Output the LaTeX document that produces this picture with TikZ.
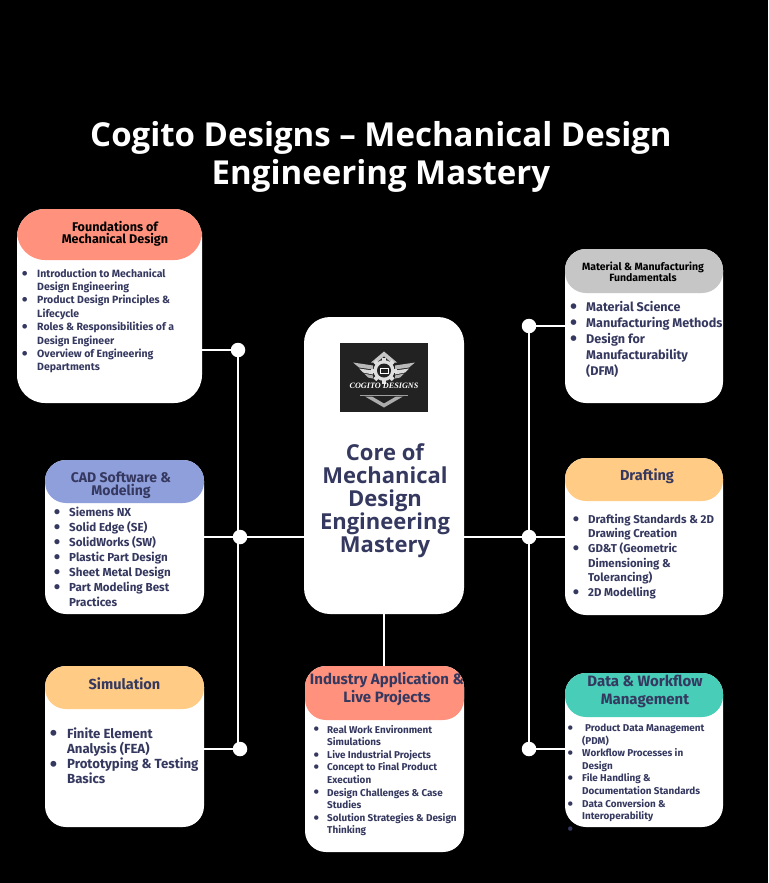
\documentclass[tikz,border=0pt]{standalone}
\usepackage{fontspec}
\usepackage{graphicx}
\setmainfont{Fira Sans}
\newfontfamily\headfont{Open Sans}
\newfontfamily\logofont{Liberation Serif}
\definecolor{navy}{HTML}{35385F}
\definecolor{salmon}{HTML}{FF917D}
\definecolor{graybar}{HTML}{C6C6C6}
\definecolor{peri}{HTML}{8F9FDB}
\definecolor{sand}{HTML}{FFCB85}
\definecolor{teal2}{HTML}{48CDB9}
\definecolor{logobg}{HTML}{222222}
\tikzset{
  x=1pt,y=-1pt,
  panel/.style={fill=white,draw=none,inner sep=0,outer sep=0},
  banner/.style={draw=none,inner sep=0,outer sep=0},
  link/.style={draw=white,line width=2.2pt},
  hub/.style={circle,fill=white,draw=none,minimum size=14.5pt,inner sep=0,outer sep=0},
  hdr/.style={inner sep=0,align=center,font=\bfseries,text=navy},
  body/.style={inner sep=0,anchor=base west,text=navy,font=\bfseries},
}
% name x1 y1 x2 y2 header-bottom radius colour
\newcommand\cardbox[8]{%
  \node[panel,rounded corners=#7pt,minimum width={(#4-#2)*1pt},minimum height={(#5-#3)*1pt}] (#1) at ({(#2+#4)/2},{(#3+#5)/2}) {};
  \node[banner,fill=#8,rounded corners=#7pt,minimum width={(#4-#2)*1pt},minimum height={(#6-#3)*1pt}] (#1head) at ({(#2+#4)/2},{(#3+#6)/2}) {};
}
\newcommand\bigdot{\smash{\raisebox{-.2em}{\scalebox{1.6}{\textbullet}}}}
\newcommand\bl[1]{\hbox{\llap{\bigdot\hspace{\bgap}}#1}}
\newcommand\cl[1]{\hbox{#1}}
\newcommand\bgap{8pt}
\newcommand\fs[2]{\fontsize{#1pt}{#2pt}\selectfont}
\begin{document}
\begin{tikzpicture}
\useasboundingbox[fill=black] (0,0) rectangle (768,883);
% cards
\cardbox{found}{17}{209}{202}{403}{260}{28}{salmon}
\cardbox{mat}{565}{249}{723}{403}{293}{21}{graybar}
\cardbox{cad}{45}{460}{204}{614}{503}{21}{peri}
\cardbox{draft}{565}{458}{723}{615}{501}{21}{sand}
\cardbox{sim}{45}{666}{204}{827}{709}{21}{sand}
\cardbox{data}{565}{673}{723}{827}{717}{21}{teal2}
\cardbox{ind}{305}{666}{464}{852}{720}{21}{salmon}
\node[panel,rounded corners=26pt,minimum width=160pt,minimum height=297pt] (core) at (384,465.5) {};
% hubs
\node[hub] (h1) at (238,350) {};
\node[hub] (h2) at (240,537) {};
\node[hub] (h3) at (240,749) {};
\node[hub] (h4) at (529,326) {};
\node[hub] (h5) at (529,537) {};
\node[hub] (h6) at (529,749) {};
% connectors
\draw[link] (h1) -- (h1 |- h3);
\draw[link] (h4) -- (h6);
\draw[link] (found.east |- h1) -- (h1);
\draw[link] (sim.east |- h3) -- (h3);
\draw[link] (cad.east |- h2) -- (core.west |- h2);
\draw[link] (core.east |- h5) -- (draft.west |- h5);
\draw[link] (mat.west |- h4) -- (h4);
\draw[link] (data.west |- h6) -- (h6);
\draw[link] (core.south) -- (core.south |- ind.north);
% title
\node[inner sep=0,align=center,text=white,font={\headfont\bfseries\fs{33}{38}}] (title) at (381,156.5) {Cogito Designs – Mechanical Design\\Engineering Mastery};
% logo
\node[draw=none,fill=logobg,inner sep=0,minimum width=88pt,minimum height=69pt] (logo) at (384,377.5) {};
\begin{scope}[shift={(384,377.5)}]
  % wings
  \foreach \s in {-1,1}{
    \fill[gray!55,xscale=\s] (31,-15) -- (11,-12) -- (11,-8) -- (25,-10) -- cycle;
    \fill[gray!30,xscale=\s] (25,-9) -- (11,-7) -- (11,-3) -- (21,-5) -- cycle;
    \fill[gray!60,xscale=\s] (20,-4) -- (11,-2) -- (11,1) -- (16,0) -- cycle;
  }
  \fill[gray!45] (0,-26) -- (13,-15) -- (-13,-15) -- cycle;
  \fill[logobg] (0,-21) -- (8,-14) -- (-8,-14) -- cycle;
  % gear
  \foreach \a in {0,45,...,315}{
    \fill[gray!25,rotate around={\a:(0,-7)}] (-2,-20) rectangle (2,-15);
  }
  \fill[gray!25] (0,-7) circle (10.5);
  \fill[logobg] (0,-7) circle (7);
  \draw[white,line width=.6pt] (-4,-9.5) rectangle (4,-4.5);
  % chevron
  \draw[gray!75,line width=.8pt] (-24,18) -- (24,18);
  \fill[gray!65] (-19,19) -- (-12,19) -- (0,26) -- (12,19) -- (19,19) -- (0,30) -- cycle;
\end{scope}
\node[inner sep=0,text=white,font={\logofont\itshape\bfseries\fs{8.2}{9}}] (logotxt) at (384,386) {COGITO DESIGNS};
\node[hdr,text=navy,font={\headfont\bfseries\fs{22}{23}}] (coretxt) at (385,501) {Core of\\Mechanical\\Design\\Engineering\\Mastery};
% headers
\node[hdr,text=black,font={\bfseries\fs{12.6}{12.3}}] (t1) at (115,233.5) {Foundations of\\Mechanical Design};
\node[hdr,text=black,font={\bfseries\fs{10.5}{10.5}}] (t2) at (643,272) {Material \& Manufacturing\\Fundamentals};
\node[hdr,font={\bfseries\fs{14}{13.5}}] (t3) at (121,485) {CAD Software \&\\Modeling};
\node[hdr,font={\bfseries\fs{14.5}{16}}] (t4) at (647,476.5) {Drafting};
\node[hdr,font={\bfseries\fs{14.5}{16}}] (t5) at (124.5,684) {Simulation};
\node[hdr,font={\bfseries\fs{15}{18}}] (t6) at (645,691.5) {Data \& Workflow\\Management};
\node[hdr,font={\bfseries\fs{15}{17.5}}] (t7) at (387,689) {Industry Application \&\\Live Projects};
% bodies
\node[body,font={\bfseries\fs{10.5}{13.42}}] (b1) at (37,277) {\renewcommand\bgap{9.5pt}\vtop{
 \bl{Introduction to Mechanical}\cl{Design Engineering}\bl{Product Design Principles \&}\cl{Lifecycle}\bl{Roles \& Responsibilities of a}\cl{Design Engineer}\bl{Overview of Engineering}\cl{Departments}}};
\node[body,font={\bfseries\fs{12.6}{16}}] (b2) at (586,311) {\renewcommand\bgap{9pt}\vtop{
 \bl{Material Science}\bl{Manufacturing Methods}\bl{Design for}\cl{Manufacturability}\cl{(DFM)}}};
\node[body,font={\bfseries\fs{11.6}{15}}] (b3) at (69,516) {\renewcommand\bgap{9pt}\vtop{
 \bl{Siemens NX}\bl{Solid Edge (SE)}\bl{SolidWorks (SW)}\bl{Plastic Part Design}\bl{Sheet Metal Design}\bl{Part Modeling Best}\cl{Practices}}};
\node[body,font={\bfseries\fs{11.4}{14.7}}] (b4) at (588,523) {\renewcommand\bgap{9pt}\vtop{
 \bl{Drafting Standards \& 2D}\cl{Drawing Creation}\bl{GD\&T (Geometric}\cl{Dimensioning \&}\cl{Tolerancing)}\bl{2D Modelling}}};
\node[body,font={\fs{13.2}{15.3}\bfseries}] (b5) at (67,738) {\renewcommand\bgap{10pt}\vtop{
 \bl{Finite Element}\cl{Analysis (FEA)}\bl{Prototyping \& Testing}\cl{Basics}}};
\node[body,font={\bfseries\fs{9.9}{12.6}}] (b6) at (327,733) {\renewcommand\bgap{8pt}\vtop{
 \bl{Real Work Environment}\cl{Simulations}\bl{Live Industrial Projects}\bl{Concept to Final Product}\cl{Execution}\bl{Design Challenges \& Case}\cl{Studies}\bl{Solution Strategies \& Design}\cl{Thinking}}};
\node[body,font={\bfseries\fs{9.9}{12.6}}] (b7) at (582,731.5) {\renewcommand\bgap{9pt}\vtop{
 \bl{\hspace{3pt}Product Data Management}\cl{(PDM)}\bl{Workflow Processes in}\cl{Design}\bl{File Handling \&}\cl{Documentation Standards}\bl{Data Conversion \&}\cl{Interoperability}\bl{}}};
\end{tikzpicture}
\end{document}
